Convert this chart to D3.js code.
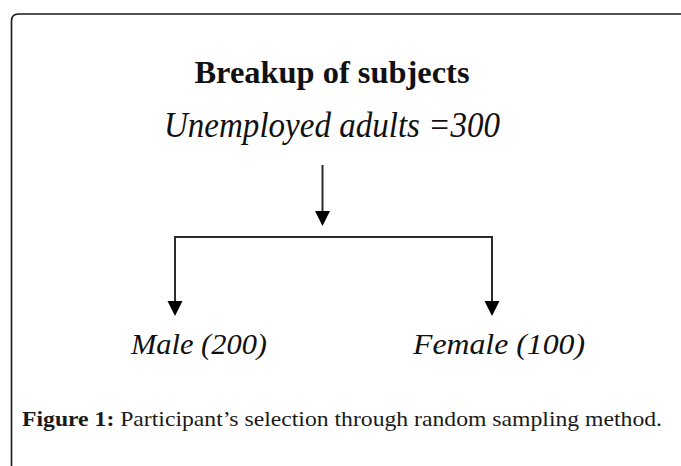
<!DOCTYPE html>
<html>
<head>
<meta charset="utf-8">
<script src="https://cdn.jsdelivr.net/npm/d3@7"></script>
<style>
  html, body { margin: 0; padding: 0; background: #fff; }
  svg { display: block; }
  text { font-family: "Liberation Serif", "Times New Roman", serif; fill: #111; }
  text.caption { fill: #1a1a1a; }
</style>
</head>
<body>
<div id="chart"></div>
<script>
// Figure 1 — breakup of subjects
const title = "Breakup of subjects";
const rootLabel = ["Unemployed adults =300"];
const groups = ["Male", "Female"];
const counts = [200, 100];
const captionBold = "Figure 1:";
const captionText = " Participant\u2019s selection through random sampling method.";

const W = 681, H = 466;
const svg = d3.select("#chart").append("svg")
  .attr("width", W).attr("height", H).attr("viewBox", `0 0 ${W} ${H}`);

// frame: only top and left edges show, rounded top-left corner
const fx = 11.5, fy = 14, r = 7;
svg.append("path")
  .attr("d", `M${fx},${H + 2} L${fx},${fy + r} Q${fx},${fy} ${fx + r},${fy} L${W + 2},${fy}`)
  .attr("fill", "none").attr("stroke", "#1a1a1a").attr("stroke-width", 1.6);

// scales
const xArrow = d3.scalePoint().domain(groups).range([175, 492]);
const xLabel = d3.scalePoint().domain(groups).range([199, 499]);
const y = d3.scaleOrdinal()
  .domain(["title", "root", "stemTop", "stemTip", "bar", "leafTip", "leaf", "caption"])
  .range([83, 137, 165, 226, 237, 316, 354, 426]);

const ink = "#2b2b2b";
const headH = 15, headW = 7.5;
function arrow(x, y0, y1) {
  svg.append("line")
    .attr("x1", x).attr("x2", x).attr("y1", y0).attr("y2", y1 - headH + 1)
    .attr("stroke", ink).attr("stroke-width", 2);
  svg.append("path")
    .attr("d", `M${x - headW},${y1 - headH} L${x + headW},${y1 - headH} L${x},${y1} Z`)
    .attr("fill", "#000");
}

// title texts
svg.append("text")
  .attr("x", 332).attr("y", y("title"))
  .attr("text-anchor", "middle").attr("font-size", 32).attr("font-weight", "bold")
  .attr("textLength", 275).attr("lengthAdjust", "spacingAndGlyphs")
  .text(title);

svg.selectAll(".root").data(rootLabel).join("text")
  .attr("class", "root")
  .attr("x", 332).attr("y", y("root"))
  .attr("text-anchor", "middle").attr("font-size", 36).attr("font-style", "italic")
  .attr("textLength", 336).attr("lengthAdjust", "spacingAndGlyphs")
  .text(d => d);

// connectors
arrow(322.5, y("stemTop"), y("stemTip"));
svg.append("line")
  .attr("x1", xArrow(groups[0]) - 1).attr("x2", xArrow(groups[groups.length - 1]) + 1)
  .attr("y1", y("bar")).attr("y2", y("bar"))
  .attr("stroke", ink).attr("stroke-width", 2);
groups.forEach(g => arrow(xArrow(g), y("bar"), y("leafTip")));

// leaf labels
const leafWidths = { Male: 136, Female: 172 };
svg.selectAll(".leaf").data(groups).join("text")
  .attr("class", "leaf")
  .attr("x", d => xLabel(d)).attr("y", y("leaf"))
  .attr("text-anchor", "middle").attr("font-size", 30).attr("font-style", "italic")
  .attr("textLength", d => leafWidths[d]).attr("lengthAdjust", "spacingAndGlyphs")
  .text((d, i) => `${d} (${counts[i]})`);

// caption
const cap = svg.append("text")
  .attr("class", "caption")
  .attr("x", 22).attr("y", y("caption"))
  .attr("font-size", 22)
  .attr("textLength", 640).attr("lengthAdjust", "spacingAndGlyphs");
cap.append("tspan").attr("font-weight", "bold").text(captionBold);
cap.append("tspan").text(captionText);
</script>
</body>
</html>
